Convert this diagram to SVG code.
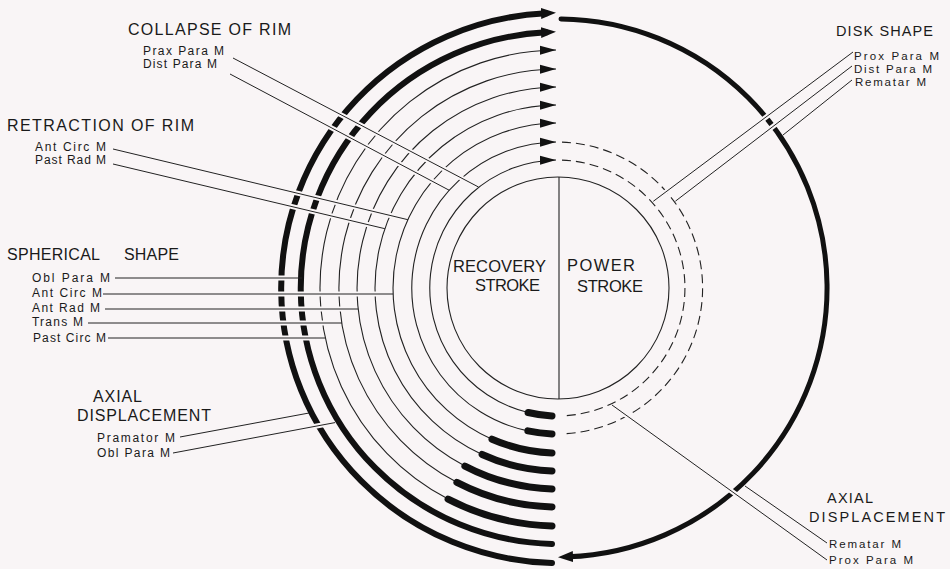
<svg xmlns="http://www.w3.org/2000/svg" width="950" height="569" viewBox="0 0 950 569">
<style>
.thin{fill:none;stroke:#222;stroke-width:1.1}
.thick{fill:none;stroke:#111;stroke-width:7;stroke-linecap:round}
.outer{fill:none;stroke:#111;stroke-width:6;stroke-linecap:round}
.dash{fill:none;stroke:#222;stroke-width:1.1;stroke-dasharray:9 5}
.case{fill:none;stroke:#f9f5f6;stroke-width:5}
.lead{fill:none;stroke:#222;stroke-width:1}
text{font-family:"Liberation Sans",Arial,sans-serif;fill:#1a1a1a}
.h{font-size:16px}
.h2{font-size:14.5px}
.s{font-size:12px}
.s2{font-size:11.5px}
.c{font-size:16.5px}
</style>
<defs>
<marker id="at" markerUnits="userSpaceOnUse" viewBox="0 -6 20 12" markerWidth="20" markerHeight="12" refX="16" refY="0" orient="auto"><path d="M0,-4.5 L16,0 L0,4.5 Z" fill="#111"/></marker>
<marker id="ak" markerUnits="userSpaceOnUse" viewBox="0 -7 18 14" markerWidth="18" markerHeight="14" refX="5" refY="0" orient="auto"><path d="M0,-5.5 L15,0 L0,5.5 Z" fill="#111"/></marker>
</defs>
<rect x="0" y="0" width="950" height="569" fill="#f9f5f6"/>

<g id="rings">
<path class="thin" marker-end="url(#at)" d="M528.1,412.5 A128,128 0 0 1 556,160.0"/>
<path class="thin" marker-end="url(#at)" d="M527.9,430.9 A146,146 0 0 1 556,142.0"/>
<path class="thin" marker-end="url(#at)" d="M492.0,439.2 A165,165 0 0 1 556,123.0"/>
<path class="thin" marker-end="url(#at)" d="M482.1,454.5 A183,183 0 0 1 556,105.0"/>
<path class="thin" marker-end="url(#at)" d="M464.9,466.1 A201,201 0 0 1 556,87.0"/>
<path class="thin" marker-end="url(#at)" d="M456.9,482.3 A219,219 0 0 1 556,69.0"/>
<path class="thin" marker-end="url(#at)" d="M448.1,499.1 A238,238 0 0 1 556,50.0"/>
<path class="thick" d="M528.1,412.5 A128,128 0 0 0 552,415.9"/>
<path class="thick" d="M527.9,430.9 A146,146 0 0 0 552,433.9"/>
<path class="thick" d="M492.0,439.2 A165,165 0 0 0 552,452.9"/>
<path class="thick" d="M482.1,454.5 A183,183 0 0 0 552,470.9"/>
<path class="thick" d="M464.9,466.1 A201,201 0 0 0 552,488.9"/>
<path class="thick" d="M456.9,482.3 A219,219 0 0 0 552,506.9"/>
<path class="thick" d="M448.1,499.1 A238,238 0 0 0 552,525.9"/>
<path class="outer" marker-end="url(#ak)" d="M552,562.9 A278,275 0 0 1 546,13.3"/>
<path class="outer" marker-end="url(#ak)" d="M552,543.9 A258,256 0 0 1 546,32.3"/>
<path class="outer" style="stroke-width:5" marker-end="url(#ak)" d="M561,19 A269,269 0 0 1 568,556.8"/>
<path class="dash" d="M562,160.1 A128,128 0 0 1 562,415.9"/>
<path class="dash" d="M562,142.1 A146,146 0 0 1 562,433.9"/>
<circle class="thin" cx="558" cy="288" r="111"/>
<path class="thin" d="M559,177 V399"/>
</g>

<g id="connectors">
<g id="casings">
<path class="case" d="M236,59.6 L472,183.6"/>
<path class="case" d="M233,75.6 L443,187"/>
<path class="case" d="M116,149.7 L402,218.3"/>
<path class="case" d="M116,164.7 L379,227.3"/>
<path class="case" d="M118,278 H297"/>
<path class="case" d="M106,294 H388"/>
<path class="case" d="M108,309 H353"/>
<path class="case" d="M91,323 H337"/>
<path class="case" d="M111,338 H320"/>
<path class="case" d="M183,436.4 L304,414"/>
<path class="case" d="M176,452.4 L330,423.5"/>
<path class="case" d="M850,54.2 L657.5,198.2"/>
<path class="case" d="M849,68.3 L679.4,198.1"/>
<path class="case" d="M849,82.4 L787,131.8"/>
<path class="case" d="M824,541 L749.5,489"/>
<path class="case" d="M824,557.8 L616.5,408.2"/>
</g>
<path class="lead" d="M233,58 L478.5,187"/>
<path class="lead" d="M230,74 L449.3,190.3"/>
<path class="lead" d="M113,149 L407.9,219.7"/>
<path class="lead" d="M113,164 L384.9,228.7"/>
<path class="lead" d="M115,278 H302"/>
<path class="lead" d="M103,294 H393"/>
<path class="lead" d="M105,309 H358"/>
<path class="lead" d="M88,323 H342"/>
<path class="lead" d="M108,338 H325"/>
<path class="lead" d="M180,437 L309,413"/>
<path class="lead" d="M173,453 L335,422.6"/>
<path class="lead" d="M853,52 L653.3,201.3"/>
<path class="lead" d="M852,66 L675.4,201.2"/>
<path class="lead" d="M852,80 L783,135"/>
<path class="lead" d="M827,543 L745,486"/>
<path class="lead" d="M827,560 L612,405"/>
</g>

<g id="center-labels">
<text class="c" x="453" y="272" textLength="93" lengthAdjust="spacing">RECOVERY</text>
<text class="c" x="475" y="291" textLength="65" lengthAdjust="spacing">STROKE</text>
<text class="c" x="567" y="271" textLength="68" lengthAdjust="spacing">POWER</text>
<text class="c" x="577" y="292" textLength="66" lengthAdjust="spacing">STROKE</text>
</g>

<g id="collapse-of-rim">
<text class="h" x="128" y="35" textLength="163" lengthAdjust="spacing">COLLAPSE OF RIM</text>
<text class="s" x="143" y="55" textLength="81" lengthAdjust="spacing">Prax Para M</text>
<text class="s" x="143" y="68" textLength="74" lengthAdjust="spacing">Dist Para M</text>
</g>

<g id="retraction-of-rim">
<text class="h" x="7" y="131" textLength="187" lengthAdjust="spacing">RETRACTION OF RIM</text>
<text class="s" x="35" y="151" textLength="71" lengthAdjust="spacing">Ant Circ M</text>
<text class="s" x="35" y="164" textLength="71" lengthAdjust="spacing">Past Rad M</text>
</g>

<g id="spherical-shape">
<text class="h" y="260"><tspan x="7" textLength="93" lengthAdjust="spacing">SPHERICAL</tspan><tspan x="124" textLength="55" lengthAdjust="spacing">SHAPE</tspan></text>
<text class="s" x="32" y="282" textLength="78" lengthAdjust="spacing">Obl Para M</text>
<text class="s" x="32" y="297" textLength="70" lengthAdjust="spacing">Ant Circ M</text>
<text class="s" x="32" y="312" textLength="68" lengthAdjust="spacing">Ant Rad M</text>
<text class="s" x="32" y="326" textLength="51" lengthAdjust="spacing">Trans M</text>
<text class="s" x="33" y="342" textLength="73" lengthAdjust="spacing">Past Circ M</text>
</g>

<g id="axial-displacement-left">
<text class="h" x="93" y="402" textLength="49" lengthAdjust="spacing">AXIAL</text>
<text class="h" x="77" y="421" textLength="134" lengthAdjust="spacing">DISPLACEMENT</text>
<text class="s" x="97" y="442" textLength="78" lengthAdjust="spacing">Pramator M</text>
<text class="s" x="97" y="457" textLength="73" lengthAdjust="spacing">Obl Para M</text>
</g>

<g id="disk-shape">
<text class="h2" x="836" y="36" textLength="97" lengthAdjust="spacing">DISK SHAPE</text>
<text class="s2" x="854" y="60" textLength="85" lengthAdjust="spacing">Prox Para M</text>
<text class="s2" x="854" y="73" textLength="78" lengthAdjust="spacing">Dist Para M</text>
<text class="s2" x="855" y="86" textLength="71" lengthAdjust="spacing">Rematar M</text>
</g>

<g id="axial-displacement-right">
<text class="h2" x="827" y="503" textLength="46" lengthAdjust="spacing">AXIAL</text>
<text class="h2" x="809" y="522" textLength="136" lengthAdjust="spacing">DISPLACEMENT</text>
<text class="s2" x="829" y="548" textLength="72" lengthAdjust="spacing">Rematar M</text>
<text class="s2" x="829" y="564" textLength="84" lengthAdjust="spacing">Prox Para M</text>
</g>
</svg>
